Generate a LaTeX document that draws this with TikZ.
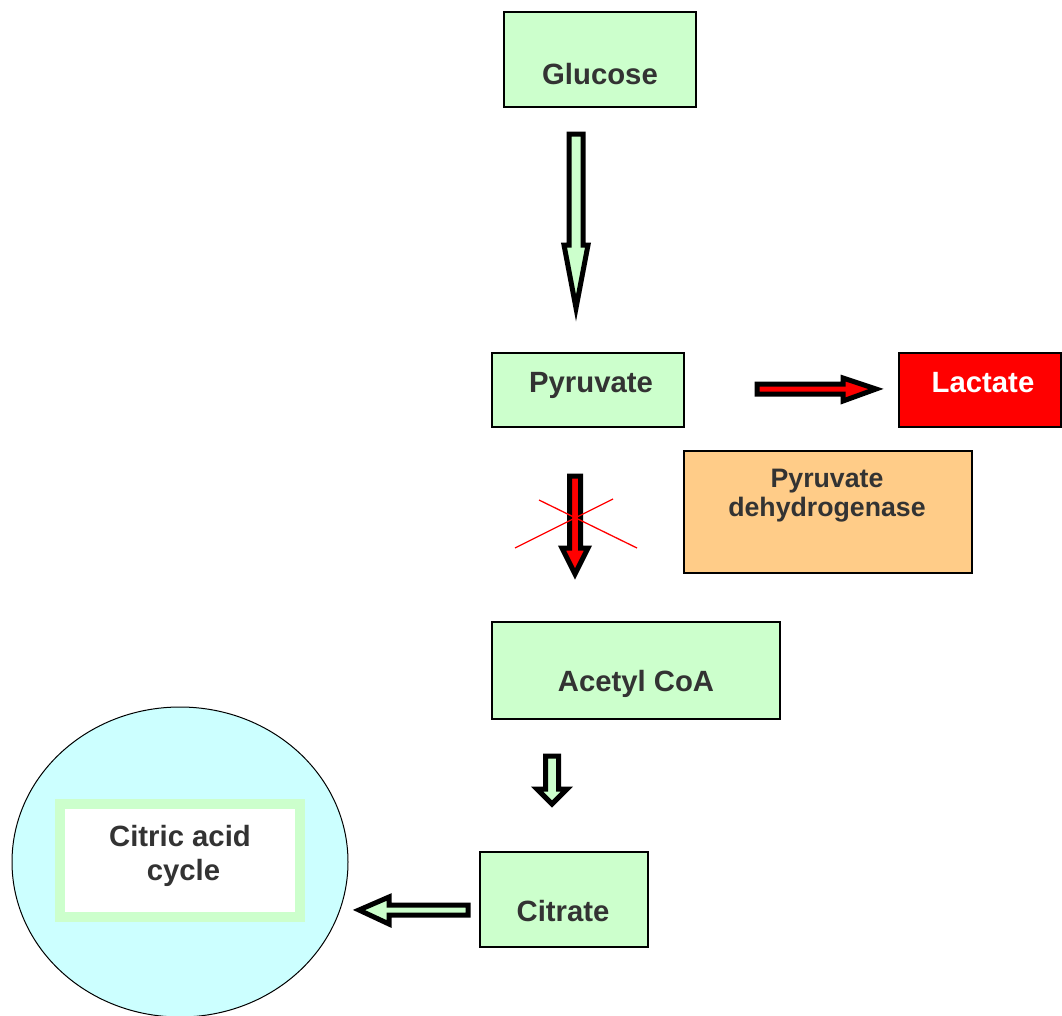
\documentclass[tikz,border=0pt]{standalone}
\usepackage{fontspec}
\setmainfont{Liberation Sans}
\usetikzlibrary{shapes.geometric}
\begin{document}
\begin{tikzpicture}[x=1pt,y=-1pt,
  box/.style={draw=black,line width=1.2pt,fill=boxgreen,inner sep=0pt},
  lbl/.style={text=textgray,font=\fontsize{29.3}{32}\selectfont\bfseries,anchor=base,inner sep=0pt},
  lblm/.style={text=textgray,font=\fontsize{26.7}{29}\selectfont\bfseries,align=center,inner sep=0pt},
  garrow/.style={draw=black,line width=5pt,fill=boxgreen,line join=miter,miter limit=10},
  rarrow/.style={draw=black,line width=5pt,fill=red,line join=miter,miter limit=10},
  cross/.style={draw=red,line width=1.3pt}]
\definecolor{boxgreen}{HTML}{CCFFCC}
\definecolor{textgray}{HTML}{333333}
\definecolor{pdhfill}{HTML}{FFCC88}
\definecolor{cyanfill}{HTML}{CCFFFF}
\useasboundingbox (0,0) rectangle (1062,1015);
% boxes
\node[box,minimum width=192,minimum height=95] (glu) at (600,59.5) {};
\node[box,minimum width=192,minimum height=74] (pyr) at (588,390) {};
\node[box,fill=red,minimum width=162,minimum height=74] (lac) at (980,390) {};
\node[box,fill=pdhfill,minimum width=288,minimum height=122] (pdh) at (828,512) {};
\node[box,minimum width=288,minimum height=97] (acoa) at (636,670.5) {};
\node[box,minimum width=168,minimum height=95] (cit) at (564,899.5) {};
\node[draw=black,line width=1pt,fill=cyanfill,ellipse,minimum width=336,minimum height=310,inner sep=0pt] (tca) at (180,862) {};
\node[draw=boxgreen,line width=10pt,fill=white,minimum width=240,minimum height=113,inner sep=0pt] (tcabox) at (180,860.5) {};
% labels
\node[lbl] (gluT) at (600,84) {Glucose};
\node[lbl] (pyrT) at (591,392) {Pyruvate};
\node[lbl,text=white] (lacT) at (983,392) {Lactate};
\node[lblm] (pdhT) at (827,496) {Pyruvate\\dehydrogenase};
\node[lbl] (acoaT) at (636,691) {Acetyl CoA};
\node[lbl] (citT) at (563,921) {Citrate};
\node[lblm,font=\fontsize{29.3}{34}\selectfont\bfseries] (tcaT) at (180,856) {Citric acid\\\hspace*{7pt}cycle};
% block arrows
\draw[garrow] (569,134) -- (583,134) -- (583,245) -- (588,245) -- (576,308) -- (564,245) -- (569,245) -- cycle;
\draw[rarrow] (757,384) -- (843,384) -- (843,378) -- (876,389) -- (843,401) -- (843,394) -- (757,394) -- cycle;
\draw[rarrow] (569.5,476) -- (580.5,476) -- (580.5,548) -- (588,548) -- (575,574) -- (562,548) -- (569.5,548) -- cycle;
\draw[garrow] (545.5,756) -- (558.5,756) -- (558.5,789) -- (567,789) -- (552,804) -- (537,789) -- (545.5,789) -- cycle;
\draw[garrow] (468,905) -- (389,905) -- (389,897) -- (359,910) -- (389,924) -- (389,915) -- (468,915) -- cycle;
% cross
\coordinate (c1a) at (515,548); \coordinate (c1b) at (613,499);
\coordinate (c2a) at (539,500); \coordinate (c2b) at (637,548);
\draw[cross] (c1a) -- (c1b);
\draw[cross] (c2a) -- (c2b);
\end{tikzpicture}
\end{document}
